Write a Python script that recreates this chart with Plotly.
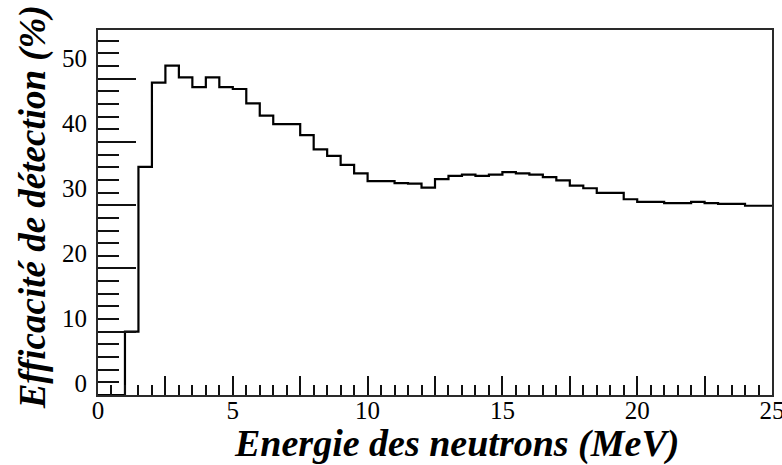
import plotly.graph_objects as go

# Neutron energy bins (MeV): 0.5 MeV wide, 0 to 25 MeV
bin_width = 0.5
bin_left_edges = [i * bin_width for i in range(50)]

# Detection efficiency per bin (%)
efficiency = [
    0.0, 0.0, 7.9, 33.3, 46.3, 48.9, 47.1, 45.6, 47.1, 45.6,
    45.3, 43.1, 41.2, 39.9, 39.9, 38.2, 36.0, 35.0, 33.6, 32.3,
    31.1, 31.1, 30.8, 30.7, 30.1, 31.4, 31.9, 32.1, 31.9, 32.1,
    32.5, 32.3, 32.1, 31.7, 31.2, 30.4, 30.0, 29.3, 29.3, 28.3,
    27.9, 27.9, 27.7, 27.7, 27.9, 27.7, 27.6, 27.6, 27.3, 27.3,
]

x_tick_major = [i * 2.5 for i in range(11)]
x_tick_text = ["%g" % v if v % 5 == 0 else "" for v in x_tick_major]
y_tick_labels = [0, 10, 20, 30, 40, 50]

x_range = [0, 25.0001]
y_range = [-1.88, 54.4]
frame_y_range = [0, 57.7]

SERIF = "Liberation Serif"
INK = "#111111"

# Build the histogram outline: empty bins sit on the frame floor
floor = y_range[0]
xs, ys = [], []
for x0, v in zip(bin_left_edges, efficiency):
    xs.append(x0)
    ys.append(v if v > 0 else floor)
xs.append(25)
ys.append(ys[-1])

fig = go.Figure()
fig.add_trace(go.Scatter(
    x=xs, y=ys, mode="lines", line=dict(shape="hv", color="black", width=2.2),
    hoverinfo="skip", showlegend=False, cliponaxis=False,
))
# Companion trace so the frame/tick axis gets drawn
fig.add_trace(go.Scatter(x=[None], y=[None], yaxis="y2", showlegend=False, hoverinfo="skip"))

fig.update_layout(
    width=782, height=465,
    margin=dict(l=98, r=10, t=30, b=70, autoexpand=False),
    paper_bgcolor="white", plot_bgcolor="white",
    font=dict(family=SERIF, color="black"),
    xaxis=dict(
        range=x_range, showgrid=False, zeroline=False, automargin=False,
        showline=True, mirror=True, linewidth=2, linecolor="#2a2a2a",
        ticks="inside", ticklen=19, tickwidth=2, tickcolor=INK,
        tickmode="array", tickvals=x_tick_major, ticktext=x_tick_text,
        minor=dict(ticks="inside", ticklen=10, tickwidth=2, tickcolor=INK, dtick=0.5, tick0=0),
        tickfont=dict(family=SERIF, size=25, color="black"),
        ticklabelstandoff=-8, ticklabeloverflow="allow",
    ),
    yaxis=dict(
        range=y_range, showgrid=False, zeroline=False, showline=False, automargin=False,
        ticks="", tickmode="array", tickvals=y_tick_labels,
        tickfont=dict(family=SERIF, size=25, color="black"),
        ticklabelstandoff=10,
    ),
    yaxis2=dict(
        range=frame_y_range, overlaying="y", side="left", automargin=False,
        showgrid=False, zeroline=False, showticklabels=False,
        showline=True, mirror=True, linewidth=2, linecolor="#2a2a2a",
        ticks="inside", ticklen=38, tickwidth=2, tickcolor=INK, dtick=10, tick0=0,
        minor=dict(ticks="inside", ticklen=21, tickwidth=2, tickcolor=INK, dtick=2),
    ),
    annotations=[
        dict(text="<b><i>Energie des neutrons (MeV)</i></b>", xref="paper", yref="paper",
             x=0.532, y=-0.132, xanchor="center", yanchor="middle", showarrow=False,
             font=dict(family=SERIF, size=38, color="black")),
        dict(text="<b><i>Efficacité de détection (%)</i></b>", xref="paper", yref="paper",
             x=-0.096, y=0.515, xanchor="center", yanchor="middle", textangle=-90, showarrow=False,
             font=dict(family=SERIF, size=37, color="black")),
    ],
)

fig.write_html("out.html")
